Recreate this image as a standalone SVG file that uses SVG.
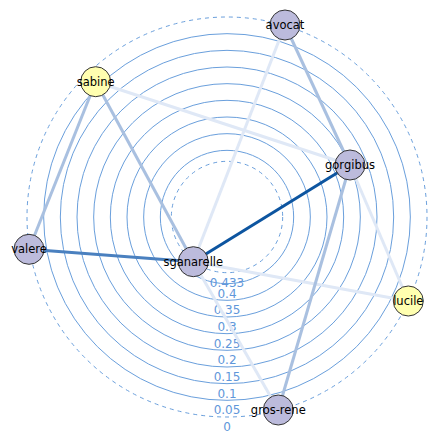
<svg xmlns="http://www.w3.org/2000/svg" width="437" height="436" viewBox="0 0 437 436">
<style>
.ring{fill:none;stroke:#6a9fdc;stroke-width:1}
.dash{stroke-dasharray:4 4}
.rl{font-family:"DejaVu Sans",sans-serif;font-size:12px;fill:#5f97da;text-anchor:middle}
.e{fill:none;stroke-width:3;stroke-linecap:butt}
.faint{stroke:#dfe8f6}
.light{stroke:#a9c0e0}
.mid{stroke:#4a80bf}
.dark{stroke:#0d55a0}
.n circle{stroke:#333;stroke-width:1}
.p{fill:#bcbbdc}
.y{fill:#ffffb0}
.n text{font-family:"DejaVu Sans",sans-serif;font-size:11.5px;fill:#000;text-anchor:middle}
</style>
<rect width="437" height="436" fill="#fff"/>
<g id="rings">
<circle class="ring dash" cx="227" cy="217" r="200"/>
<circle class="ring" cx="227" cy="217" r="183.33"/>
<circle class="ring" cx="227" cy="217" r="166.67"/>
<circle class="ring" cx="227" cy="217" r="150"/>
<circle class="ring" cx="227" cy="217" r="133.33"/>
<circle class="ring" cx="227" cy="217" r="116.67"/>
<circle class="ring" cx="227" cy="217" r="100"/>
<circle class="ring" cx="227" cy="217" r="83.33"/>
<circle class="ring" cx="227" cy="217" r="66.67"/>
<circle class="ring dash" cx="227" cy="217" r="55.67"/>
</g>
<g id="ring-labels">
<text class="rl" x="227" y="431">0</text>
<text class="rl" x="227" y="414.3">0.05</text>
<text class="rl" x="227" y="397.7">0.1</text>
<text class="rl" x="227" y="381">0.15</text>
<text class="rl" x="227" y="364.3">0.2</text>
<text class="rl" x="227" y="347.7">0.25</text>
<text class="rl" x="227" y="331">0.3</text>
<text class="rl" x="227" y="314.3">0.35</text>
<text class="rl" x="227" y="297.7">0.4</text>
<text class="rl" x="227" y="286.7">0.433</text>
</g>
<g id="connectors">
<line class="e faint" x1="95.7" y1="81.7" x2="350" y2="165"/>
<line class="e faint" x1="285" y1="25" x2="193.3" y2="261.7"/>
<line class="e faint" x1="350" y1="165" x2="408.3" y2="301"/>
<line class="e faint" x1="193.3" y1="261.7" x2="408.3" y2="301"/>
<line class="e faint" x1="193.3" y1="261.7" x2="278.3" y2="410"/>
<line class="e light" x1="95.7" y1="81.7" x2="29" y2="249.3"/>
<line class="e light" x1="95.7" y1="81.7" x2="193.3" y2="261.7"/>
<line class="e light" x1="285" y1="25" x2="350" y2="165"/>
<line class="e light" x1="350" y1="165" x2="278.3" y2="410"/>
<line class="e mid" x1="29" y1="249.3" x2="193.3" y2="261.7"/>
<line class="e dark" x1="193.3" y1="261.7" x2="350" y2="165"/>
</g>
<g id="node-avocat" class="n"><circle class="p" cx="285" cy="25" r="15"/><text x="285" y="29">avocat</text></g>
<g id="node-gorgibus" class="n"><circle class="p" cx="350" cy="165" r="15"/><text x="350" y="169">gorgibus</text></g>
<g id="node-sabine" class="n"><circle class="y" cx="95.7" cy="81.7" r="15"/><text x="95.7" y="85.7">sabine</text></g>
<g id="node-valere" class="n"><circle class="p" cx="29" cy="249.3" r="15"/><text x="29" y="253.3">valere</text></g>
<g id="node-sganarelle" class="n"><circle class="p" cx="193.3" cy="261.7" r="15"/><text x="193.3" y="265.7">sganarelle</text></g>
<g id="node-lucile" class="n"><circle class="y" cx="408.3" cy="301" r="15"/><text x="408.3" y="305">lucile</text></g>
<g id="node-gros-rene" class="n"><circle class="p" cx="278.3" cy="410" r="15"/><text x="278.3" y="414">gros-rene</text></g>
</svg>
